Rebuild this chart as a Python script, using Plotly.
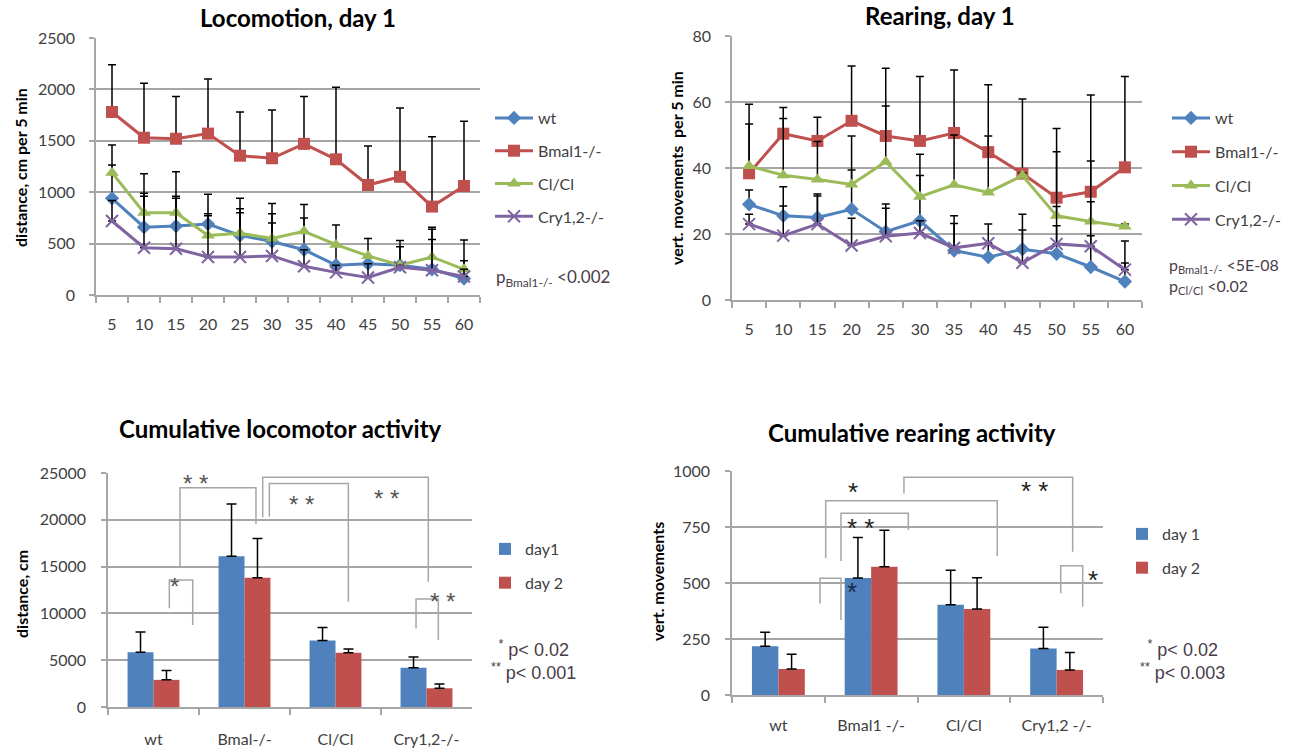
import plotly.graph_objects as go

# ---------------- data ----------------
time_min = ["5", "10", "15", "20", "25", "30", "35", "40", "45", "50", "55", "60"]
series_names = ["wt", "Bmal1-/-", "Cl/Cl", "Cry1,2-/-"]

# Locomotion, day 1 (distance, cm per 5 min) and upper error
loco_wt = [940, 660, 670, 690, 580, 520, 440, 290, 305, 290, 250, 160]
loco_bmal = [1780, 1530, 1520, 1570, 1355, 1330, 1470, 1320, 1070, 1150, 860, 1060]
loco_clock = [1190, 800, 800, 580, 600, 550, 620, 490, 380, 290, 370, 250]
loco_cry = [720, 460, 450, 370, 370, 380, 280, 220, 170, 270, 240, 180]
loco_wt_err = [325, 330, 290, 290, 260, 270, 310, 200, 75, 180, 390, 174]
loco_bmal_err = [460, 530, 410, 530, 425, 470, 460, 700, 380, 670, 680, 630]
loco_clock_err = [270, 380, 400, 210, 340, 340, 260, 190, 170, 240, 290, 285]
loco_cry_err = [200, 500, 490, 400, 430, 320, 160, 70, 135, 20, 300, 70]

# Rearing, day 1 (vert. movements per 5 min) and upper error
rear_wt = [29, 25.5, 25, 27.5, 20.7, 24, 15, 13, 15.4, 14, 10, 5.6]
rear_bmal = [38.4, 50.4, 48.2, 54.3, 49.7, 48.2, 50.6, 44.8, 38.3, 31, 32.8, 40.2]
rear_clock = [40.6, 37.8, 36.5, 35, 41.9, 31.3, 34.9, 32.6, 37.7, 25.5, 23.8, 22.3]
rear_cry = [23, 19.5, 23, 16.5, 19.3, 20.3, 15.8, 17.2, 11.3, 17, 16.3, 9.2]
rear_wt_err = [4.3, 8.8, 7.1, 11.9, 8.4, 13.7, 10.5, 4.2, 10.6, 8.5, 9.5, 12.3]
rear_bmal_err = [20.9, 7.9, 7.2, 16.6, 20.5, 19.5, 19.1, 20.4, 22.6, 21, 29.3, 27.5]
rear_clock_err = [12.7, 17.2, 11.5, 14.7, 16.9, 12.9, 15.1, 17.1, 0.8, 19.4, 18.3, 0.7]
rear_cry_err = [3, 9, 8.5, 8.3, 8.5, 3.7, 7.4, 5.8, 9.9, 11.3, 13.5, 2]

# Cumulative locomotor activity (distance, cm)
loco_groups = ["wt", "Bmal-/-", "Cl/Cl", "Cry1,2-/-"]
cum_loco_day1 = [5850, 16100, 7100, 4200]
cum_loco_day1_err = [2150, 5600, 1400, 1150]
cum_loco_day2 = [2900, 13800, 5800, 2000]
cum_loco_day2_err = [1000, 4200, 400, 450]

# Cumulative rearing activity (vert. movements)
rear_groups = ["wt", "Bmal1 -/-", "Cl/Cl", "Cry1,2 -/-"]
cum_rear_day1 = [218, 522, 403, 208]
cum_rear_day1_err = [62, 181, 154, 94]
cum_rear_day2 = [116, 572, 384, 112]
cum_rear_day2_err = [66, 163, 139, 78]

# ---------------- styling ----------------
W, H = 1290, 749
BLUE, RED, GREEN, PURPLE = "#4F81BD", "#C0504D", "#9BBB59", "#8064A2"
GRID = "#a6a6a6"
TXT = "#404040"
FONT = "Lato"


def pxx(x):
    return x / W


def pxy(y):
    return 1 - y / H


fig = go.Figure()

line_specs = [
    (series_names[0], BLUE, dict(symbol="diamond", size=11, color=BLUE)),
    (series_names[1], RED, dict(symbol="square", size=12, color=RED)),
    (series_names[2], GREEN, dict(symbol="triangle-up", size=12, color=GREEN)),
    (series_names[3], PURPLE, dict(symbol="x-thin", size=12, color=PURPLE,
                                   line=dict(color=PURPLE, width=2))),
]

loco_vals = [loco_wt, loco_bmal, loco_clock, loco_cry]
loco_errs = [loco_wt_err, loco_bmal_err, loco_clock_err, loco_cry_err]
rear_vals = [rear_wt, rear_bmal, rear_clock, rear_cry]
rear_errs = [rear_wt_err, rear_bmal_err, rear_clock_err, rear_cry_err]

for (name, col, mk), yv, ye in zip(line_specs, loco_vals, loco_errs):
    fig.add_trace(go.Scatter(
        x=time_min, y=yv, name=name, mode="lines+markers",
        line=dict(color=col, width=3), marker=mk,
        error_y=dict(type="data", symmetric=False, array=ye, arrayminus=[0] * len(ye),
                     color="black", thickness=1.5, width=4),
        xaxis="x", yaxis="y", legend="legend", legendgroup="a" + name))

for (name, col, mk), yv, ye in zip(line_specs, rear_vals, rear_errs):
    fig.add_trace(go.Scatter(
        x=time_min, y=yv, name=name, mode="lines+markers",
        line=dict(color=col, width=3), marker=mk,
        error_y=dict(type="data", symmetric=False, array=ye, arrayminus=[0] * len(ye),
                     color="black", thickness=1.5, width=4),
        xaxis="x2", yaxis="y2", legend="legend2", legendgroup="b" + name))

for name, col, yv, ye in [("day1", BLUE, cum_loco_day1, cum_loco_day1_err),
                          ("day 2", RED, cum_loco_day2, cum_loco_day2_err)]:
    fig.add_trace(go.Bar(
        x=loco_groups, y=yv, name=name, marker=dict(color=col, line=dict(width=0)),
        error_y=dict(type="data", symmetric=False, array=ye, arrayminus=[0] * len(ye),
                     color="black", thickness=1.5, width=5),
        xaxis="x3", yaxis="y3", legend="legend3", legendgroup="c" + name))

for name, col, yv, ye in [("day 1", BLUE, cum_rear_day1, cum_rear_day1_err),
                          ("day 2", RED, cum_rear_day2, cum_rear_day2_err)]:
    fig.add_trace(go.Bar(
        x=rear_groups, y=yv, name=name, marker=dict(color=col, line=dict(width=0)),
        error_y=dict(type="data", symmetric=False, array=ye, arrayminus=[0] * len(ye),
                     color="black", thickness=1.5, width=5),
        xaxis="x4", yaxis="y4", legend="legend4", legendgroup="d" + name))

tickfont = dict(family=FONT, size=16, color=TXT)


def xax(x0, x1, anchor, ncat, standoff):
    return dict(domain=[pxx(x0), pxx(x1)], anchor=anchor, type="category",
                range=[-0.5, ncat - 0.5], showline=True, linecolor=GRID, linewidth=1.5,
                ticks="outside", tickson="boundaries", ticklen=6, tickcolor=GRID,
                tickwidth=1.5, showgrid=False, zeroline=False, tickfont=tickfont,
                ticklabelstandoff=standoff, fixedrange=True, automargin=False)


def yax(y0, y1, anchor, top, dtick, standoff):
    return dict(domain=[pxy(y1), pxy(y0)], anchor=anchor, range=[0, top], dtick=dtick,
                showline=True, linecolor=GRID, linewidth=1.5, ticks="outside",
                ticklen=5, tickcolor=GRID, tickwidth=1.5, showgrid=True,
                gridcolor=GRID, gridwidth=1.5, zeroline=False, tickfont=tickfont,
                tickformat="d", ticklabelstandoff=standoff, fixedrange=True,
                automargin=False)


fig.update_layout(
    width=W, height=H, margin=dict(l=0, r=0, t=0, b=0, autoexpand=False),
    paper_bgcolor="white", plot_bgcolor="white",
    barmode="group", bargap=0.43, bargroupgap=0,
    font=dict(family=FONT, color=TXT),
    xaxis=xax(96, 480, "y", 12, 14),
    yaxis=yax(38, 295, "x", 2500, 500, 11),
    xaxis2=xax(732, 1142, "y2", 12, 14),
    yaxis2=yax(36, 300, "x2", 80, 20, 11),
    xaxis3=xax(108, 472, "y3", 4, 17),
    yaxis3=yax(473, 707, "x3", 25000, 5000, 12),
    xaxis4=xax(732, 1103, "y4", 4, 15),
    yaxis4=yax(471, 695, "x4", 1000, 250, 12),
)

leg_common = dict(xanchor="left", yanchor="top", bgcolor="rgba(0,0,0,0)",
                  font=dict(family=FONT, size=16, color=TXT))
fig.update_layout(
    legend=dict(x=pxx(490), y=pxy(101), itemwidth=38, tracegroupgap=9, **leg_common),
    legend2=dict(x=pxx(1167), y=pxy(101), itemwidth=38, tracegroupgap=10, **leg_common),
    legend3=dict(x=pxx(485), y=pxy(532), itemwidth=30, tracegroupgap=10, **leg_common),
    legend4=dict(x=pxx(1122), y=pxy(517), itemwidth=30, tracegroupgap=10, **leg_common),
)

annotations = []


def ann(text, x, y, size, bold=False, angle=0, color="black", family=FONT,
        xanchor="center", align="center"):
    annotations.append(dict(
        text=("<b>%s</b>" % text) if bold else text, x=pxx(x), y=pxy(y),
        xref="paper", yref="paper", showarrow=False, textangle=angle,
        xanchor=xanchor, yanchor="middle", align=align,
        font=dict(family=family, size=size, color=color)))


# titles
ann("Locomotion, day 1", 298, 18, 24, bold=True)
ann("Rearing, day 1", 940, 15, 24, bold=True)
ann("Cumulative locomotor activity", 280, 428, 24, bold=True)
ann("Cumulative rearing activity", 912, 432, 24, bold=True)
# y-axis titles
ann("distance, cm per 5 min", 20, 168, 16, bold=True, angle=-90)
ann("vert. movements  per 5 min", 676, 168, 16, bold=True, angle=-90)
ann("distance, cm", 21, 594, 16, bold=True, angle=-90)
ann("vert. movements", 657, 582, 16, bold=True, angle=-90)
# p-values
PCOL = "#4a3c4a"
ann("p<sub>Bmal1-/-</sub> <0.002", 494, 278, 17, color=PCOL, xanchor="left")
ann("p<sub>Bmal1-/-</sub> <5E-08", 1167, 265, 16, color=PCOL, xanchor="left")
ann("p<sub>Cl/Cl</sub> <0.02", 1167, 287, 16, color=PCOL, xanchor="left")
ann("<sup>*</sup> p< 0.02<br><sup>**</sup> p< 0.001", 533, 660, 18, color=PCOL,
    family="Liberation Sans")
ann("<sup>*</sup> p< 0.02<br><sup>**</sup> p< 0.003", 1182, 660, 18, color=PCOL,
    family="Liberation Sans")

# significance brackets (x in category index, y in data units)
shapes = []


def bracket(xr, yr, xl, yl_bot, ytop, xrt, yr_bot):
    shapes.append(dict(type="path", xref=xr, yref=yr, layer="above",
                       path="M %f,%f L %f,%f L %f,%f L %f,%f" % (
                           xl, yl_bot, xl, ytop, xrt, ytop, xrt, yr_bot),
                       line=dict(color="#a6a6a6", width=1.5)))


def star(xr, yr, text, x, y, size=20, color="#555555"):
    annotations.append(dict(text=text, x=x, y=y, xref=xr, yref=yr, showarrow=False,
                            font=dict(family="Liberation Sans", size=size, color=color),
                            xanchor="center", yanchor="middle"))


bracket("x3", "y3", 0.291, 14850, 23430, 1.126, 19550)
bracket("x3", "y3", 0.174, 10550, 13570, 0.431, 8760)
bracket("x3", "y3", 1.200, 20270, 24540, 3.020, 13390)
bracket("x3", "y3", 1.273, 20330, 23890, 2.141, 11250)
bracket("x3", "y3", 2.885, 8400, 11540, 3.130, 7160)
star("x3", "y3", "* *", 0.456, 23900, size=24)
star("x3", "y3", "*", 0.236, 12900, size=24)
star("x3", "y3", "* *", 2.563, 22300, size=24)
star("x3", "y3", "* *", 1.628, 21600, size=24)
star("x3", "y3", "* *", 3.178, 11300, size=24)

bracket("x4", "y4", 0.510, 610, 867, 2.360, 620)
bracket("x4", "y4", 0.675, 598, 811, 1.401, 737)
bracket("x4", "y4", 1.354, 900, 972, 3.173, 640)
bracket("x4", "y4", 0.449, 409, 521, 0.675, 335)
bracket("x4", "y4", 3.044, 454, 577, 3.281, 394)
star("x4", "y4", "*", 0.808, 905, size=26, color="#222222")
star("x4", "y4", "* *", 0.880, 745, size=26, color="#222222")
star("x4", "y4", "* *", 2.759, 910, size=26, color="#222222")
star("x4", "y4", "*", 0.791, 462, size=26, color="#1b2a48")
star("x4", "y4", "*", 3.395, 512, size=26, color="#222222")

fig.update_layout(annotations=annotations, shapes=shapes)

fig.write_html("out.html", config={"displayModeBar": False},
               post_script="document.body.style.margin='0px';"
                           "document.body.style.overflow='hidden';")
